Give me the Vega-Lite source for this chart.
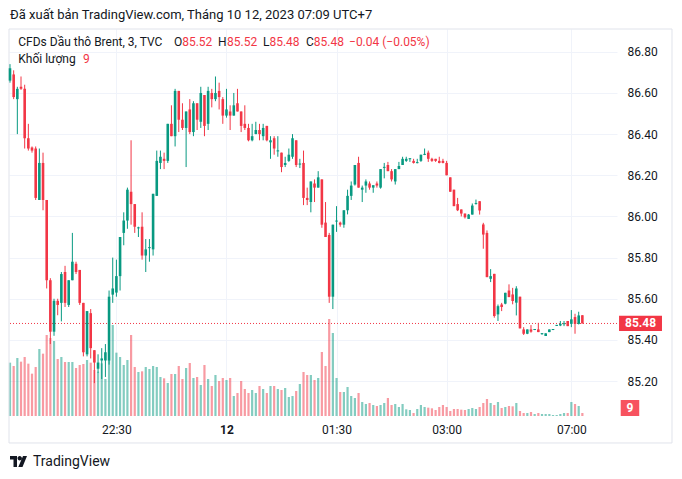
{
  "$schema": "https://vega.github.io/schema/vega-lite/v6.json",
  "width": 608,
  "height": 387,
  "autosize": {"type": "none"},
  "padding": {"left": 9, "top": 29, "right": 65, "bottom": 63},
  "background": "white",
  "config": {
    "view": {"stroke": null},
    "font": "Roboto",
    "axis": {"labelFont": "Roboto", "labelFontSize": 12, "labelColor": "#131722", "domain": false, "ticks": false, "gridColor": "#f0f3fa", "gridWidth": 1}
  },
  "title": {"text": "Đã xuất bản TradingView.com, Tháng 10 12, 2023 07:09 UTC+7", "anchor": "start", "frame": "group", "offset": 1, "baseline": "middle", "fontSize": 13, "fontWeight": "normal", "color": "#131722", "font": "Roboto", "dx": 1},
  "datasets": {
    "one": [{}],
    "k": [
      {"i":0,"o":86.66,"h":86.74,"l":86.65,"c":86.72,"v":160},
      {"i":1,"o":86.69,"h":86.71,"l":86.57,"c":86.58,"v":150},
      {"i":2,"o":86.57,"h":86.63,"l":86.40,"c":86.62,"v":174},
      {"i":3,"o":86.63,"h":86.68,"l":86.615,"c":86.62,"v":163},
      {"i":4,"o":86.62,"h":86.64,"l":86.33,"c":86.38,"v":177},
      {"i":5,"o":86.38,"h":86.45,"l":86.32,"c":86.33,"v":157},
      {"i":6,"o":86.335,"h":86.34,"l":86.31,"c":86.32,"v":127},
      {"i":7,"o":86.33,"h":86.34,"l":86.08,"c":86.09,"v":147},
      {"i":8,"o":86.08,"h":86.33,"l":86.08,"c":86.26,"v":201},
      {"i":9,"o":86.26,"h":86.31,"l":86.03,"c":86.08,"v":187},
      {"i":10,"o":86.08,"h":86.08,"l":85.65,"c":85.69,"v":243},
      {"i":11,"o":85.69,"h":85.70,"l":85.38,"c":85.44,"v":234},
      {"i":12,"o":85.44,"h":85.60,"l":85.42,"c":85.59,"v":225},
      {"i":13,"o":85.59,"h":85.60,"l":85.52,"c":85.57,"v":171},
      {"i":14,"o":85.58,"h":85.73,"l":85.49,"c":85.72,"v":177},
      {"i":15,"o":85.73,"h":85.76,"l":85.56,"c":85.58,"v":162},
      {"i":16,"o":85.57,"h":85.69,"l":85.56,"c":85.69,"v":162},
      {"i":17,"o":85.69,"h":85.92,"l":85.69,"c":85.78,"v":162},
      {"i":18,"o":85.77,"h":85.78,"l":85.72,"c":85.73,"v":144},
      {"i":19,"o":85.74,"h":85.74,"l":85.57,"c":85.58,"v":153},
      {"i":20,"o":85.58,"h":85.58,"l":85.32,"c":85.34,"v":156},
      {"i":21,"o":85.33,"h":85.54,"l":85.32,"c":85.54,"v":168},
      {"i":22,"o":85.53,"h":85.55,"l":85.31,"c":85.36,"v":160},
      {"i":23,"o":85.35,"h":85.35,"l":85.19,"c":85.29,"v":138},
      {"i":24,"o":85.26,"h":85.33,"l":85.24,"c":85.29,"v":133},
      {"i":25,"o":85.30,"h":85.36,"l":85.21,"c":85.31,"v":158},
      {"i":26,"o":85.30,"h":85.38,"l":85.22,"c":85.34,"v":111},
      {"i":27,"o":85.30,"h":85.64,"l":85.28,"c":85.61,"v":168},
      {"i":28,"o":85.62,"h":85.80,"l":85.58,"c":85.65,"v":273},
      {"i":29,"o":85.63,"h":85.79,"l":85.61,"c":85.71,"v":190},
      {"i":30,"o":85.71,"h":85.90,"l":85.64,"c":85.90,"v":177},
      {"i":31,"o":85.92,"h":86.02,"l":85.86,"c":85.98,"v":153},
      {"i":32,"o":85.98,"h":86.14,"l":85.94,"c":86.13,"v":168},
      {"i":33,"o":86.12,"h":86.37,"l":85.96,"c":86.06,"v":243},
      {"i":34,"o":86.06,"h":86.06,"l":85.92,"c":85.95,"v":147},
      {"i":35,"o":85.942,"h":85.95,"l":85.90,"c":85.947,"v":132},
      {"i":36,"o":85.95,"h":86.02,"l":85.79,"c":85.81,"v":134},
      {"i":37,"o":85.81,"h":85.89,"l":85.73,"c":85.84,"v":147},
      {"i":38,"o":85.846,"h":85.89,"l":85.78,"c":85.851,"v":141},
      {"i":39,"o":85.84,"h":86.11,"l":85.81,"c":86.11,"v":150},
      {"i":40,"o":86.10,"h":86.32,"l":86.10,"c":86.27,"v":147},
      {"i":41,"o":86.26,"h":86.32,"l":86.23,"c":86.29,"v":117},
      {"i":42,"o":86.28,"h":86.31,"l":86.23,"c":86.27,"v":113},
      {"i":43,"o":86.27,"h":86.45,"l":86.26,"c":86.45,"v":99},
      {"i":44,"o":86.45,"h":86.54,"l":86.39,"c":86.39,"v":126},
      {"i":45,"o":86.39,"h":86.62,"l":86.34,"c":86.61,"v":126},
      {"i":46,"o":86.61,"h":86.61,"l":86.41,"c":86.47,"v":150},
      {"i":47,"o":86.47,"h":86.55,"l":86.42,"c":86.43,"v":111},
      {"i":48,"o":86.43,"h":86.51,"l":86.24,"c":86.51,"v":144},
      {"i":49,"o":86.52,"h":86.57,"l":86.40,"c":86.41,"v":159},
      {"i":50,"o":86.41,"h":86.56,"l":86.39,"c":86.55,"v":114},
      {"i":51,"o":86.55,"h":86.55,"l":86.42,"c":86.47,"v":117},
      {"i":52,"o":86.46,"h":86.63,"l":86.43,"c":86.60,"v":93},
      {"i":53,"o":86.59,"h":86.59,"l":86.39,"c":86.44,"v":153},
      {"i":54,"o":86.45,"h":86.63,"l":86.42,"c":86.61,"v":111},
      {"i":55,"o":86.60,"h":86.62,"l":86.53,"c":86.57,"v":90},
      {"i":56,"o":86.57,"h":86.68,"l":86.56,"c":86.60,"v":123},
      {"i":57,"o":86.61,"h":86.65,"l":86.52,"c":86.58,"v":105},
      {"i":58,"o":86.57,"h":86.58,"l":86.45,"c":86.49,"v":114},
      {"i":59,"o":86.49,"h":86.62,"l":86.48,"c":86.52,"v":108},
      {"i":60,"o":86.51,"h":86.54,"l":86.42,"c":86.49,"v":114},
      {"i":61,"o":86.49,"h":86.60,"l":86.49,"c":86.54,"v":60},
      {"i":62,"o":86.55,"h":86.62,"l":86.51,"c":86.51,"v":69},
      {"i":63,"o":86.51,"h":86.51,"l":86.41,"c":86.44,"v":105},
      {"i":64,"o":86.45,"h":86.54,"l":86.42,"c":86.43,"v":81},
      {"i":65,"o":86.43,"h":86.45,"l":86.365,"c":86.37,"v":69},
      {"i":66,"o":86.37,"h":86.45,"l":86.365,"c":86.39,"v":78},
      {"i":67,"o":86.40,"h":86.46,"l":86.40,"c":86.42,"v":69},
      {"i":68,"o":86.42,"h":86.45,"l":86.37,"c":86.40,"v":90},
      {"i":69,"o":86.39,"h":86.45,"l":86.37,"c":86.43,"v":81},
      {"i":70,"o":86.44,"h":86.44,"l":86.365,"c":86.37,"v":69},
      {"i":71,"o":86.36,"h":86.39,"l":86.28,"c":86.37,"v":90},
      {"i":72,"o":86.38,"h":86.39,"l":86.30,"c":86.33,"v":90},
      {"i":73,"o":86.316,"h":86.39,"l":86.29,"c":86.321,"v":81},
      {"i":74,"o":86.31,"h":86.31,"l":86.215,"c":86.24,"v":78},
      {"i":75,"o":86.25,"h":86.29,"l":86.24,"c":86.26,"v":84},
      {"i":76,"o":86.27,"h":86.33,"l":86.265,"c":86.30,"v":57},
      {"i":77,"o":86.29,"h":86.40,"l":86.28,"c":86.38,"v":60},
      {"i":78,"o":86.37,"h":86.37,"l":86.24,"c":86.25,"v":75},
      {"i":79,"o":86.252,"h":86.28,"l":86.235,"c":86.257,"v":96},
      {"i":80,"o":86.26,"h":86.32,"l":86.055,"c":86.09,"v":132},
      {"i":81,"o":86.09,"h":86.14,"l":86.055,"c":86.08,"v":123},
      {"i":82,"o":86.07,"h":86.17,"l":86.02,"c":86.17,"v":123},
      {"i":83,"o":86.16,"h":86.18,"l":86.07,"c":86.14,"v":108},
      {"i":84,"o":86.14,"h":86.22,"l":86.14,"c":86.19,"v":114},
      {"i":85,"o":86.18,"h":86.18,"l":85.945,"c":85.96,"v":192},
      {"i":86,"o":85.97,"h":86.07,"l":85.90,"c":85.90,"v":150},
      {"i":87,"o":85.91,"h":85.92,"l":85.58,"c":85.61,"v":291},
      {"i":88,"o":85.61,"h":85.96,"l":85.55,"c":85.96,"v":249},
      {"i":89,"o":85.975,"h":86.05,"l":85.925,"c":85.98,"v":114},
      {"i":90,"o":85.97,"h":85.975,"l":85.95,"c":85.96,"v":72},
      {"i":91,"o":85.96,"h":86.03,"l":85.945,"c":86.03,"v":72},
      {"i":92,"o":86.03,"h":86.13,"l":86.01,"c":86.10,"v":87},
      {"i":93,"o":86.10,"h":86.17,"l":86.08,"c":86.15,"v":60},
      {"i":94,"o":86.155,"h":86.25,"l":86.15,"c":86.25,"v":54},
      {"i":95,"o":86.26,"h":86.29,"l":86.14,"c":86.14,"v":69},
      {"i":96,"o":86.13,"h":86.15,"l":86.07,"c":86.14,"v":42},
      {"i":97,"o":86.15,"h":86.18,"l":86.115,"c":86.17,"v":36},
      {"i":98,"o":86.16,"h":86.17,"l":86.13,"c":86.14,"v":39},
      {"i":99,"o":86.14,"h":86.15,"l":86.115,"c":86.152,"v":33},
      {"i":100,"o":86.16,"h":86.17,"l":86.14,"c":86.15,"v":30},
      {"i":101,"o":86.14,"h":86.23,"l":86.135,"c":86.23,"v":33},
      {"i":102,"o":86.236,"h":86.26,"l":86.185,"c":86.241,"v":39},
      {"i":103,"o":86.25,"h":86.265,"l":86.22,"c":86.22,"v":54},
      {"i":104,"o":86.22,"h":86.23,"l":86.17,"c":86.18,"v":33},
      {"i":105,"o":86.17,"h":86.23,"l":86.155,"c":86.23,"v":36},
      {"i":106,"o":86.23,"h":86.265,"l":86.23,"c":86.245,"v":27},
      {"i":107,"o":86.25,"h":86.29,"l":86.25,"c":86.28,"v":36},
      {"i":108,"o":86.27,"h":86.29,"l":86.265,"c":86.28,"v":20},
      {"i":109,"o":86.278,"h":86.283,"l":86.265,"c":86.283,"v":18},
      {"i":110,"o":86.27,"h":86.28,"l":86.257,"c":86.26,"v":9},
      {"i":111,"o":86.259,"h":86.28,"l":86.258,"c":86.264,"v":21},
      {"i":112,"o":86.27,"h":86.30,"l":86.265,"c":86.30,"v":33},
      {"i":113,"o":86.299,"h":86.33,"l":86.298,"c":86.304,"v":27},
      {"i":114,"o":86.31,"h":86.32,"l":86.265,"c":86.28,"v":25},
      {"i":115,"o":86.28,"h":86.285,"l":86.265,"c":86.27,"v":23},
      {"i":116,"o":86.28,"h":86.28,"l":86.265,"c":86.27,"v":18},
      {"i":117,"o":86.27,"h":86.29,"l":86.258,"c":86.26,"v":27},
      {"i":118,"o":86.27,"h":86.28,"l":86.258,"c":86.26,"v":33},
      {"i":119,"o":86.26,"h":86.27,"l":86.20,"c":86.20,"v":27},
      {"i":120,"o":86.19,"h":86.19,"l":86.12,"c":86.12,"v":15},
      {"i":121,"o":86.13,"h":86.13,"l":86.05,"c":86.05,"v":21},
      {"i":122,"o":86.06,"h":86.09,"l":86.026,"c":86.03,"v":21},
      {"i":123,"o":86.034,"h":86.034,"l":86.00,"c":86.014,"v":19},
      {"i":124,"o":86.014,"h":86.014,"l":85.99,"c":85.996,"v":18},
      {"i":125,"o":85.988,"h":86.012,"l":85.988,"c":86.009,"v":21},
      {"i":126,"o":86.009,"h":86.063,"l":86.009,"c":86.053,"v":24},
      {"i":127,"o":86.060,"h":86.082,"l":86.058,"c":86.065,"v":21},
      {"i":128,"o":86.074,"h":86.074,"l":86.009,"c":86.029,"v":27},
      {"i":129,"o":85.961,"h":85.969,"l":85.843,"c":85.912,"v":39},
      {"i":130,"o":85.92,"h":85.932,"l":85.705,"c":85.705,"v":51},
      {"i":131,"o":85.697,"h":85.744,"l":85.681,"c":85.71,"v":39},
      {"i":132,"o":85.721,"h":85.721,"l":85.508,"c":85.516,"v":33},
      {"i":133,"o":85.524,"h":85.572,"l":85.492,"c":85.564,"v":42},
      {"i":134,"o":85.572,"h":85.58,"l":85.54,"c":85.56,"v":24},
      {"i":135,"o":85.576,"h":85.629,"l":85.573,"c":85.629,"v":27},
      {"i":136,"o":85.64,"h":85.67,"l":85.608,"c":85.608,"v":30},
      {"i":137,"o":85.621,"h":85.653,"l":85.573,"c":85.589,"v":29},
      {"i":138,"o":85.581,"h":85.661,"l":85.519,"c":85.65,"v":39},
      {"i":139,"o":85.61,"h":85.61,"l":85.456,"c":85.456,"v":15},
      {"i":140,"o":85.451,"h":85.462,"l":85.424,"c":85.43,"v":9},
      {"i":141,"o":85.43,"h":85.451,"l":85.428,"c":85.451,"v":9},
      {"i":142,"o":85.451,"h":85.472,"l":85.435,"c":85.44,"v":12},
      {"i":143,"o":85.448,"h":85.453,"l":85.448,"c":85.453,"v":6},
      {"i":144,"o":85.451,"h":85.483,"l":85.438,"c":85.438,"v":9},
      {"i":145,"o":85.428,"h":85.433,"l":85.425,"c":85.433,"v":6},
      {"i":146,"o":85.419,"h":85.432,"l":85.419,"c":85.432,"v":6},
      {"i":147,"o":85.438,"h":85.451,"l":85.438,"c":85.451,"v":6},
      {"i":148,"o":85.448,"h":85.453,"l":85.448,"c":85.453,"v":3},
      {"i":149,"o":85.468,"h":85.473,"l":85.468,"c":85.473,"v":3},
      {"i":150,"o":85.47,"h":85.492,"l":85.467,"c":85.478,"v":6},
      {"i":151,"o":85.476,"h":85.492,"l":85.467,"c":85.481,"v":9},
      {"i":152,"o":85.492,"h":85.492,"l":85.467,"c":85.467,"v":9},
      {"i":153,"o":85.478,"h":85.545,"l":85.462,"c":85.50,"v":42},
      {"i":154,"o":85.511,"h":85.527,"l":85.43,"c":85.478,"v":36},
      {"i":155,"o":85.478,"h":85.537,"l":85.475,"c":85.519,"v":30},
      {"i":156,"o":85.52,"h":85.52,"l":85.48,"c":85.48,"v":9}
    ]
  },
  "layer": [
    {
      "layer": [
        {
          "data": {"name": "k"},
          "mark": {"type": "bar", "size": 2.2, "opacity": 0.5},
          "encoding": {
            "x": {"field": "i", "type": "quantitative", "title": null, "scale": {"domain": [-0.2726, 165.44], "nice": false, "zero": false, "padding": 0},
              "axis": {"values": [29, 59, 89, 119, 153], "labelExpr": "datum.value == 29 ? '22:30' : datum.value == 59 ? '12' : datum.value == 89 ? '01:30' : datum.value == 119 ? '03:00' : '07:00'", "labelFontWeight": {"expr": "datum.value == 59 ? 'bold' : 'normal'"}, "labelPadding": 8, "grid": true}},
            "y": {"field": "v", "type": "quantitative", "axis": null, "scale": {"domain": [0, 1161], "nice": false, "zero": true}},
            "color": {"condition": {"test": "datum.c >= datum.o", "value": "#089981"}, "value": "#F23645"}
          }
        },
        {
          "data": {"name": "one"},
          "mark": {"type": "rect", "color": "#F7525F"},
          "encoding": {
            "x": {"datum": 166.45}, "x2": {"datum": 171.5},
            "y": {"datum": 0, "axis": null}, "y2": {"datum": 48}
          }
        },
        {
          "data": {"name": "one"},
          "mark": {"type": "text", "text": "9", "color": "white", "fontWeight": "bold", "fontSize": 12, "align": "center", "baseline": "middle", "font": "Roboto"},
          "encoding": {"x": {"datum": 168.98}, "y": {"datum": 24, "axis": null}}
        }
      ]
    },
    {
      "layer": [
        {
          "data": {"name": "one"},
          "mark": {"type": "rect", "filled": false, "stroke": "#e0e3eb", "strokeWidth": 1},
          "encoding": {
            "x": {"datum": -0.2726}, "x2": {"datum": 180.43},
            "y": {"datum": 86.9108}, "y2": {"datum": 84.8992}
          }
        },
        {
          "data": {"name": "one"},
          "mark": {"type": "rule", "color": "#F23645", "strokeDash": [1, 2], "strokeWidth": 1},
          "encoding": {"y": {"datum": 85.48}}
        },
        {
          "data": {"name": "k"},
          "mark": {"type": "rule", "strokeWidth": 1},
          "encoding": {
            "x": {"field": "i", "type": "quantitative", "title": null},
            "y": {"field": "l", "type": "quantitative", "title": null,
              "scale": {"domain": [85.0303, 86.9108], "nice": false, "zero": false},
              "axis": {"orient": "right", "values": [85.2, 85.4, 85.6, 85.8, 86.0, 86.2, 86.4, 86.6, 86.8], "format": ".2f", "labelPadding": 10, "grid": true}},
            "y2": {"field": "h"},
            "color": {"condition": {"test": "datum.c >= datum.o", "value": "#089981"}, "value": "#F23645"}
          }
        },
        {
          "data": {"name": "k"},
          "mark": {"type": "bar", "size": 2.6},
          "encoding": {
            "x": {"field": "i", "type": "quantitative", "title": null},
            "y": {"field": "o", "type": "quantitative", "title": null},
            "y2": {"field": "c"},
            "color": {"condition": {"test": "datum.c >= datum.o", "value": "#089981"}, "value": "#F23645"}
          }
        },
        {
          "data": {"name": "one"},
          "mark": {"type": "rect", "color": "#F23645"},
          "encoding": {"x": {"datum": 166.0}, "x2": {"datum": 177.7}, "y": {"datum": 85.517}, "y2": {"datum": 85.443}}
        },
        {
          "data": {"name": "one"},
          "mark": {"type": "text", "text": "85.48", "color": "white", "fontWeight": "bold", "fontSize": 12, "align": "center", "baseline": "middle", "font": "Roboto"},
          "encoding": {"x": {"datum": 171.85}, "y": {"datum": 85.48}}
        },
        {
          "data": {"name": "one"},
          "mark": {"type": "text", "text": "CFDs Dầu thô Brent, 3, TVC", "color": "#131722", "fontSize": 12, "align": "left", "baseline": "middle", "font": "Roboto"},
          "encoding": {"x": {"datum": 2.26}, "y": {"datum": 86.8462}}
        },
        {
          "data": {"name": "one"},
          "mark": {"type": "text", "text": "O", "color": "#131722", "fontSize": 12, "align": "left", "baseline": "middle", "font": "Roboto"},
          "encoding": {"x": {"datum": 44.70}, "y": {"datum": 86.8462}}
        },
        {
          "data": {"name": "one"},
          "mark": {"type": "text", "text": "85.52", "color": "#F23645", "fontSize": 12, "align": "left", "baseline": "middle", "font": "Roboto"},
          "encoding": {"x": {"datum": 46.93}, "y": {"datum": 86.8462}}
        },
        {
          "data": {"name": "one"},
          "mark": {"type": "text", "text": "H", "color": "#131722", "fontSize": 12, "align": "left", "baseline": "middle", "font": "Roboto"},
          "encoding": {"x": {"datum": 56.69}, "y": {"datum": 86.8462}}
        },
        {
          "data": {"name": "one"},
          "mark": {"type": "text", "text": "85.52", "color": "#F23645", "fontSize": 12, "align": "left", "baseline": "middle", "font": "Roboto"},
          "encoding": {"x": {"datum": 59.14}, "y": {"datum": 86.8462}}
        },
        {
          "data": {"name": "one"},
          "mark": {"type": "text", "text": "L", "color": "#131722", "fontSize": 12, "align": "left", "baseline": "middle", "font": "Roboto"},
          "encoding": {"x": {"datum": 68.96}, "y": {"datum": 86.8462}}
        },
        {
          "data": {"name": "one"},
          "mark": {"type": "text", "text": "85.48", "color": "#F23645", "fontSize": 12, "align": "left", "baseline": "middle", "font": "Roboto"},
          "encoding": {"x": {"datum": 70.70}, "y": {"datum": 86.8462}}
        },
        {
          "data": {"name": "one"},
          "mark": {"type": "text", "text": "C", "color": "#131722", "fontSize": 12, "align": "left", "baseline": "middle", "font": "Roboto"},
          "encoding": {"x": {"datum": 80.68}, "y": {"datum": 86.8462}}
        },
        {
          "data": {"name": "one"},
          "mark": {"type": "text", "text": "85.48", "color": "#F23645", "fontSize": 12, "align": "left", "baseline": "middle", "font": "Roboto"},
          "encoding": {"x": {"datum": 82.80}, "y": {"datum": 86.8462}}
        },
        {
          "data": {"name": "one"},
          "mark": {"type": "text", "text": "−0.04 (−0.05%)", "color": "#F23645", "fontSize": 12, "align": "left", "baseline": "middle", "font": "Roboto"},
          "encoding": {"x": {"datum": 92.40}, "y": {"datum": 86.8462}}
        },
        {
          "data": {"name": "one"},
          "mark": {"type": "text", "text": "Khối lượng", "color": "#131722", "fontSize": 12, "align": "left", "baseline": "middle", "font": "Roboto"},
          "encoding": {"x": {"datum": 2.26}, "y": {"datum": 86.7636}}
        },
        {
          "data": {"name": "one"},
          "mark": {"type": "text", "text": "9", "color": "#F23645", "fontSize": 12, "align": "left", "baseline": "middle", "font": "Roboto"},
          "encoding": {"x": {"datum": 19.90}, "y": {"datum": 86.7636}}
        },
        {
          "data": {"name": "one"},
          "mark": {"type": "point", "shape": "M-1,-0.647H-0.176V0.647H-0.588V-0.235H-1Z M-0.118,-0.388A0.259,0.259 0 1,0 0.4,-0.388A0.259,0.259 0 1,0 -0.118,-0.388Z M0.529,-0.647L1,-0.647L0.471,0.647L-0.024,0.647Z", "filled": true, "size": 289, "color": "#131722", "opacity": 1},
          "encoding": {"x": {"datum": 2.317}, "y": {"datum": 84.8092}}
        },
        {
          "data": {"name": "one"},
          "mark": {"type": "text", "text": "TradingView", "color": "#131722", "fontSize": 14, "align": "left", "baseline": "middle", "font": "Roboto"},
          "encoding": {"x": {"datum": 6.27}, "y": {"datum": 84.8067}}
        }
      ]
    }
  ],
  "resolve": {"scale": {"y": "independent"}}
}
